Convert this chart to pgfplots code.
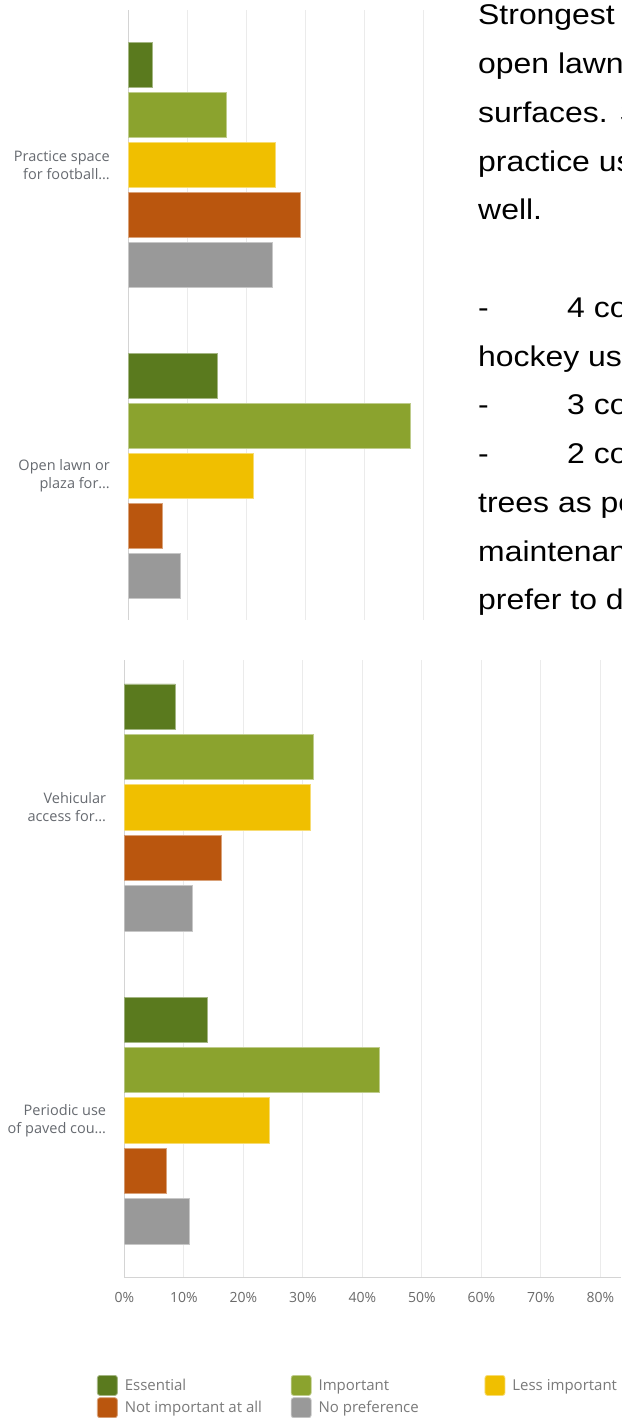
\documentclass[border=0pt]{standalone}
\usepackage{pgfplots}
\usepackage{pgfplotstable}
\pgfplotsset{compat=1.18}
\usepackage{fontspec}
\setmainfont{Open Sans}
\newfontfamily\arialf[FakeStretch=1.12]{Liberation Sans}
\definecolor{cEss}{HTML}{5A7A1E}
\definecolor{cImp}{HTML}{8BA32E}
\definecolor{cLess}{HTML}{F0BF00}
\definecolor{cNot}{HTML}{BA560E}
\definecolor{cNo}{HTML}{999999}
\definecolor{gridc}{HTML}{EBEBEB}
\definecolor{axc}{HTML}{D4D4D4}
\definecolor{labc}{HTML}{666A70}
\definecolor{tickc}{HTML}{6A6A6A}
\definecolor{legc}{HTML}{7A7A7A}

% cat 1 = upper group, cat 0 = lower group
\pgfplotstableread{
cat Ess Imp Less Not NoPref
1 4.2 16.7 25.0 29.2 24.4
0 15.2 47.9 21.3 5.8 8.9
}\topdata
\pgfplotstableread{
cat Ess Imp Less Not NoPref
1 8.6 31.8 31.2 16.3 11.4
0 13.9 42.8 24.4 7.1 10.9
}\botdata

\pgfplotsset{chartbase/.style={
  xbar, scale only axis, anchor=south west, xmin=0, ytick={0,1},
  bar width=0.145,
  axis line style={draw=none},
  major tick length=0pt,
  xmajorgrids, grid style={draw=gridc, line width=1pt},
  extra x tick style={grid=major, grid style={draw=axc, line width=1pt}},
  yticklabel style={align=right, font=\fontsize{14.5}{18}\selectfont, text=labc, inner sep=0pt, xshift=-18pt},
  legend image code/.code={\draw[#1, rounded corners=2.5pt, line width=0.8pt] (0pt,-10pt) rectangle (20pt,10pt);},
}}
\pgfplotsset{
  sEss/.style={fill=cEss, draw=cEss!55!white, line width=0.8pt, bar shift=0.322},
  sImp/.style={fill=cImp, draw=cImp!55!white, line width=0.8pt, bar shift=0.161},
  sLess/.style={fill=cLess, draw=cLess!55!white, line width=0.8pt, bar shift=0},
  sNot/.style={fill=cNot, draw=cNot!55!white, line width=0.8pt, bar shift=-0.161},
  sNo/.style={fill=cNo, draw=cNo!55!white, line width=0.8pt, bar shift=-0.322},
}

\begin{document}
\begin{tikzpicture}[x=1pt,y=1pt]
\useasboundingbox (0,0) rectangle (621,1418);
\fill[white] (0,0) rectangle (621,1418);

% upper chart
\begin{axis}[chartbase, at={(128pt,798pt)}, width=306.8pt, height=610pt,
  xmax=52, ymin=-0.465, ymax=1.499,
  xtick={10,20,30,40,50}, xticklabels={},
  extra x ticks={0}, extra x tick labels={},
  yticklabels={{Open lawn or\\plaza for…},{Practice space\\for football…}}]
\addplot[sEss] table[x=Ess, y=cat]{\topdata};
\addplot[sImp] table[x=Imp, y=cat]{\topdata};
\addplot[sLess] table[x=Less, y=cat]{\topdata};
\addplot[sNot] table[x=Not, y=cat]{\topdata};
\addplot[sNo] table[x=NoPref, y=cat]{\topdata};
\end{axis}

% lower chart
\begin{axis}[chartbase, at={(124.3pt,140pt)}, width=496.7pt, height=618pt,
  xmax=83.48, ymin=-0.503, ymax=1.471,
  xtick={0,10,20,30,40,50,60,70,80},
  xticklabels={0\%,10\%,20\%,30\%,40\%,50\%,60\%,70\%,80\%},
  xticklabel style={font=\fontsize{14}{16}\selectfont, text=tickc, inner sep=0pt, yshift=-14pt},
  extra x ticks={0}, extra x tick labels={},
  extra y ticks={-0.503}, extra y tick labels={},
  extra y tick style={grid=major, grid style={draw=axc, line width=1pt}},
  yticklabels={{Periodic use\\of paved cou…},{Vehicular\\access for…}},
  legend columns=3,
  legend style={at={(-0.055,-0.157)}, anchor=north west, draw=none, fill=none,
    inner sep=0pt, outer sep=0pt, row sep=1.5pt,
    font=\fontsize{15}{18}\selectfont,
    nodes={inner sep=0pt, text=legc, anchor=west},
    /tikz/every odd column/.append style={column sep=7pt},
    /tikz/every even column/.append style={column sep=16pt}}]
\addplot[sEss] table[x=Ess, y=cat]{\botdata};
\addplot[sImp] table[x=Imp, y=cat]{\botdata};
\addplot[sLess] table[x=Less, y=cat]{\botdata};
\addplot[sNot] table[x=Not, y=cat]{\botdata};
\addplot[sNo] table[x=NoPref, y=cat]{\botdata};
\legend{\makebox[150pt][l]{Essential},\makebox[150pt][l]{Important},\makebox[150pt][l]{Less important},\makebox[150pt][l]{Not important at all},\makebox[150pt][l]{No preference}}
\end{axis}

% text panel (cut off at the right edge, as in the reference)
\begin{scope}[every node/.style={anchor=base west, inner sep=0pt, font=\arialf\fontsize{28.5}{34}\selectfont}]
\node at (478,1393) {Strongest support};
\node at (478,1344.25) {open lawn or plaza};
\node at (478,1295.5) {surfaces. Some};
\node at (478,1246.75) {practice use as};
\node at (478,1198) {well.};
\node at (478,1100.5) {-};
\node at (567,1100.5) {4 comments};
\node at (478,1051.75) {hockey use};
\node at (478,1003) {-};
\node at (567,1003) {3 comments};
\node at (478,954.25) {-};
\node at (567,954.25) {2 comments};
\node at (478,905.5) {trees as possible};
\node at (478,856.75) {maintenance};
\node at (478,808) {prefer to do};
\end{scope}
\end{tikzpicture}
\end{document}
